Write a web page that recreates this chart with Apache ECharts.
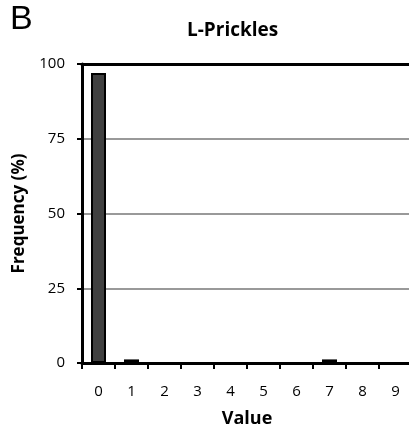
<!DOCTYPE html>
<html>
<head>
<meta charset="utf-8">
<script src="https://cdn.jsdelivr.net/npm/echarts@6/dist/echarts.min.js"></script>
<style>
  html, body { margin: 0; padding: 0; background: #fff; }
  #chart { width: 409px; height: 430px; }
</style>
</head>
<body>
<div id="chart"></div>
<script>
  // 数据
  const categories = ['0', '1', '2', '3', '4', '5', '6', '7', '8', '9']
  const frequency = [97, 1.2, 0, 0, 0, 0, 0, 1.2, 0, 0]
  const yTicks = [0, 25, 50, 75, 100]

  const font = '"Open Sans", Lato, sans-serif'
  const chart = echarts.init(document.getElementById('chart'))

  const option = {
    animation: false,
    backgroundColor: '#fff',
    textStyle: { fontFamily: font, color: '#000' },
    graphic: [
      { type: 'text', left: 10, top: 3, style: { text: 'B', font: '34px "Liberation Sans", Arial, sans-serif', fill: '#000' } },
      { type: 'text', left: 187, top: 21, style: { text: 'L-Prickles', font: 'bold 19px ' + font, fill: '#000' } }
    ],
    grid: { left: 82, top: 64, width: 330, height: 299, outerBoundsMode: 'none', containLabel: false },
    xAxis: [
      {
        type: 'category',
        data: categories,
        name: 'Value',
        nameLocation: 'middle',
        nameGap: 47,
        nameTextStyle: { fontWeight: 'bold', fontSize: 18, color: '#000' },
        axisLine: { lineStyle: { color: '#000', width: 3 } },
        axisTick: { show: true, length: 6, lineStyle: { color: '#000', width: 2 } },
        axisLabel: { fontSize: 15, color: '#000', margin: 21 }
      },
      {
        // 顶部黑线
        type: 'category',
        data: categories,
        position: 'top',
        axisLine: { lineStyle: { color: '#000', width: 3 } },
        axisTick: { show: false },
        axisLabel: { show: false }
      }
    ],
    yAxis: {
      type: 'value',
      min: yTicks[0],
      max: yTicks[yTicks.length - 1],
      interval: 25,
      name: 'Frequency (%)',
      nameLocation: 'middle',
      nameGap: 54,
      nameTextStyle: { fontWeight: 'bold', fontSize: 17, color: '#000' },
      axisLine: { show: true, lineStyle: { color: '#000', width: 3 } },
      axisTick: { show: true, length: 5, lineStyle: { color: '#000', width: 2 } },
      axisLabel: { fontSize: 15, color: '#000', margin: 17 },
      splitLine: { lineStyle: { color: '#999', width: 2 } }
    },
    series: [
      {
        type: 'bar',
        data: frequency,
        barWidth: 15,
        itemStyle: { color: '#404040', borderColor: '#000', borderWidth: 2 }
      }
    ]
  }
  chart.setOption(option)
</script>
</body>
</html>
